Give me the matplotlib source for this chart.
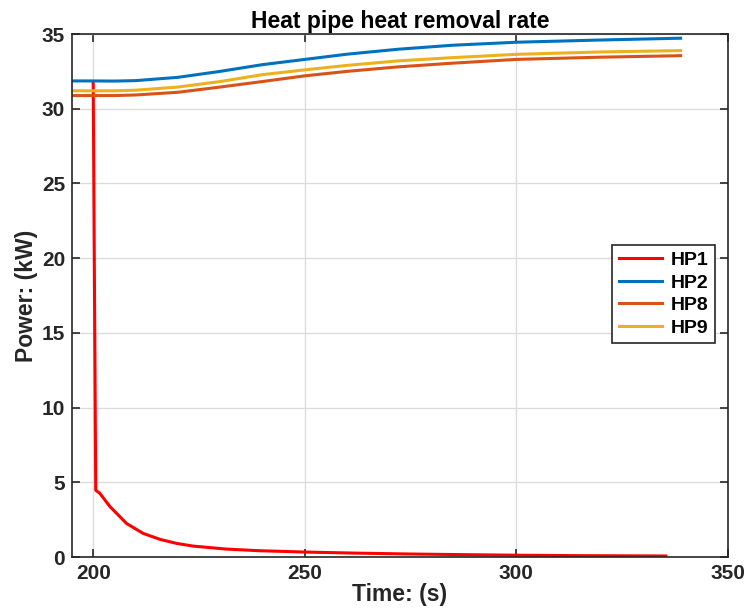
import matplotlib
matplotlib.use('Agg')
import matplotlib.pyplot as plt

plt.rcParams['font.family'] = ['Liberation Sans', 'DejaVu Sans']
plt.rcParams['font.weight'] = 'bold'

# HP1 - sharp drop after 200 s then decay
t_hp1 = [200.0, 200.6, 201.6, 204.0, 207.9, 211.8, 215.8, 219.7, 223.6, 231.5,
         239.3, 250.3, 262.0, 275.0, 290.0, 300.0, 315.0, 335.3]
p_hp1 = [31.8, 4.47, 4.25, 3.36, 2.24, 1.58, 1.18, 0.91, 0.73, 0.53,
         0.42, 0.33, 0.26, 0.2, 0.15, 0.12, 0.09, 0.07]

# other heat pipes
t_hp = [195, 200, 205, 210, 220, 230, 240, 250, 260, 272, 285, 300, 320, 338.8]
p_hp2 = [31.86, 31.86, 31.85, 31.88, 32.1, 32.5, 32.95, 33.3, 33.65, 33.98,
         34.25, 34.45, 34.6, 34.72]
p_hp8 = [30.88, 30.88, 30.88, 30.92, 31.1, 31.45, 31.82, 32.2, 32.5, 32.8,
         33.05, 33.3, 33.45, 33.55]
p_hp9 = [31.2, 31.2, 31.2, 31.24, 31.45, 31.82, 32.28, 32.6, 32.9, 33.2,
         33.42, 33.64, 33.8, 33.89]

fig = plt.figure(figsize=(7.48, 6.15), dpi=100)
ax = fig.add_axes([0.0963, 0.0943, 0.877, 0.8504])

lw = 2.2
ax.plot(t_hp1, p_hp1, color='#FF0000', lw=lw, label='HP1')
ax.plot(t_hp, p_hp2, color='#0072BD', lw=lw, label='HP2')
ax.plot(t_hp, p_hp8, color='#D95319', lw=lw, label='HP8')
ax.plot(t_hp, p_hp9, color='#EDB120', lw=lw, label='HP9')

ax.set_xlim(195, 350)
ax.set_ylim(0, 35)
ax.set_xticks([200, 250, 300, 350])
ax.set_yticks([0, 5, 10, 15, 20, 25, 30, 35])
ax.grid(True, color='#DCDCDC', lw=1.0)
ax.set_axisbelow(True)
ax.tick_params(direction='in', top=True, right=True, length=6, width=1.2,
               labelsize=15, colors='#262626', pad=5)
for s in ax.spines.values():
    s.set_color('#262626')
    s.set_linewidth(1.2)

ax.set_xlabel('Time: (s)', fontsize=16.5, fontweight='bold', color='#262626', labelpad=0)
ax.set_ylabel('Power: (kW)', fontsize=16.5, fontweight='bold', color='#262626', labelpad=3)
ax.set_title('Heat pipe heat removal rate', fontsize=16.5, fontweight='bold', pad=4)

leg = ax.legend(loc='upper left', bbox_to_anchor=(0.823, 0.597), fontsize=14,
                frameon=True, fancybox=False, edgecolor='#262626', framealpha=1,
                handlelength=2.2, handletextpad=0.45, borderpad=0.35, labelspacing=0.25,
                borderaxespad=0)
leg.get_frame().set_linewidth(1.2)
for txt in leg.get_texts():
    txt.set_fontweight('bold')

fig.savefig('out.png', dpi=100)
